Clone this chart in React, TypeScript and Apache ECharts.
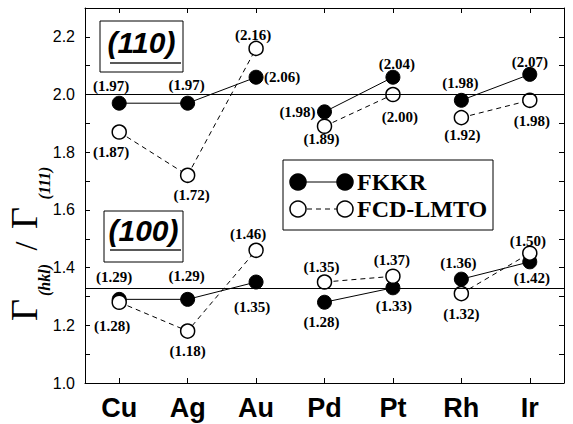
import React, { useEffect, useRef } from 'react';
import * as echarts from 'echarts';

const categories = ['Cu', 'Ag', 'Au', 'Pd', 'Pt', 'Rh', 'Ir'];
const groups = [[0, 1, 2], [3, 4], [5, 6]];
const refLines = [2.0, 4 / 3];

const fkkr110 = [1.97, 1.97, 2.06, 1.94, 2.06, 1.98, 2.07];
const fkkr110Labels = ['(1.97)', '(1.97)', '(2.06)', '(1.98)', '(2.04)', '(1.98)', '(2.07)'];
const fcd110 = [1.87, 1.72, 2.16, 1.89, 2.0, 1.92, 1.98];
const fcd110Labels = ['(1.87)', '(1.72)', '(2.16)', '(1.89)', '(2.00)', '(1.92)', '(1.98)'];
const fkkr100 = [1.29, 1.29, 1.35, 1.28, 1.33, 1.36, 1.42];
const fkkr100Labels = ['(1.29)', '(1.29)', '(1.35)', '(1.28)', '(1.33)', '(1.36)', '(1.42)'];
const fcd100 = [1.28, 1.18, 1.46, 1.35, 1.37, 1.31, 1.45];
const fcd100Labels = ['(1.28)', '(1.18)', '(1.46)', '(1.35)', '(1.37)', '(1.32)', '(1.50)'];

// label offsets (layout only)
const fkkr110Off = [[-8, -17], [-1, -18], [26, 0], [-27, 0], [4, -13], [-1, -17], [0, -12]];
const fcd110Off = [[-8, 20], [4, 20], [-3, -13], [-3, 13], [7, 22], [1, 17], [2, 21]];
const fkkr100Off = [[-5, -22], [-1, -23], [-4, 25], [-3, 20], [1, 18], [-3, -16], [2, 16]];
const fcd100Off = [[-7, 24], [0, 20], [-8, -16], [-3, -15], [-1, -16], [0, 20], [-2, -12]];

const SERIF = "'Liberation Serif', 'Times New Roman', serif";
const SANS = "'Liberation Sans', Arial, sans-serif";

function buildSeries(name: string, values: number[], labels: string[], offs: number[][], open: boolean, z: number) {
  return groups.map((g, gi) => ({
    name: name + '-' + gi,
    type: 'line',
    z,
    symbol: 'circle',
    symbolSize: 14,
    itemStyle: open
      ? { color: '#fff', borderColor: '#000', borderWidth: 1.5 }
      : { color: '#000', borderColor: '#000', borderWidth: 1 },
    lineStyle: { color: '#000', width: 1, type: open ? [5, 4] : 'solid' },
    data: values.map((v, i) =>
      g.includes(i)
        ? {
            value: v,
            label: {
              show: true,
              position: 'inside',
              offset: offs[i],
              formatter: labels[i],
              fontFamily: SERIF,
              fontWeight: 'bold',
              fontSize: 15,
              color: '#000',
            },
          }
        : '-'
    ),
  }));
}

export default function App() {
  const ref = useRef<HTMLDivElement>(null);
  useEffect(() => {
    document.body.style.margin = '0';
    const chart = echarts.init(ref.current!, null, { renderer: 'svg' });
    const yCommon = {
      type: 'value',
      min: 1.0,
      max: 2.3,
      interval: 0.1,
      splitLine: { show: false },
      axisLine: { show: true, lineStyle: { color: '#000', width: 1 } },
      axisTick: { show: true, inside: true, length: 5, lineStyle: { color: '#000' } },
    };
    const xCommon = {
      type: 'category',
      data: categories,
      boundaryGap: true,
      axisLine: { show: true, lineStyle: { color: '#000', width: 1 } },
      axisTick: { show: true, inside: true, alignWithLabel: true, length: 5, lineStyle: { color: '#000' } },
      splitLine: { show: false },
    };
    const series: any[] = [
      ...buildSeries('FKKR110', fkkr110, fkkr110Labels, fkkr110Off, false, 2),
      ...buildSeries('FKKR100', fkkr100, fkkr100Labels, fkkr100Off, false, 2),
      ...buildSeries('FCD110', fcd110, fcd110Labels, fcd110Off, true, 3),
      ...buildSeries('FCD100', fcd100, fcd100Labels, fcd100Off, true, 3),
    ];
    series[0].markLine = {
      silent: true,
      symbol: 'none',
      label: { show: false },
      lineStyle: { color: '#000', type: 'solid', width: 1 },
      data: refLines.map((v) => ({ yAxis: v })),
    };
    const txtStyle = (text: string, fontSize: number, fontFamily: string, fontWeight: string, fontStyle: string, align: string) => ({
      text,
      fontSize,
      fontFamily,
      fontWeight,
      fontStyle,
      fill: '#000',
      align,
      verticalAlign: 'middle',
      textAlign: align,
      textVerticalAlign: 'middle',
    });
    const legendRow = (y: number, open: boolean, text: string) => [
      {
        type: 'line',
        shape: { x1: 298, y1: y, x2: 345, y2: y },
        style: { stroke: '#000', lineWidth: 1, lineDash: open ? [5, 4] : null },
        z: 10,
      },
      ...[298, 345].map((cx) => ({
        type: 'circle',
        shape: { cx, cy: y, r: 8 },
        style: { fill: open ? '#fff' : '#000', stroke: '#000', lineWidth: 1.5 },
        z: 11,
      })),
      {
        type: 'text',
        x: 357,
        y,
        z: 11,
        style: txtStyle(text, 24, SERIF, 'bold', 'normal', 'left'),
      },
    ];
    const boxLabel = (x: number, y: number, w: number, h: number, text: string, ty: number, uy: number) => [
      { type: 'rect', shape: { x, y, width: w, height: h }, style: { fill: '#fff', stroke: '#000', lineWidth: 1 }, z: 10 },
      {
        type: 'text',
        x: x + w / 2,
        y: ty,
        z: 11,
        style: txtStyle(text, 30, SANS, 'bold', 'italic', 'center'),
      },
      { type: 'line', shape: { x1: 110, y1: uy, x2: 181, y2: uy }, style: { stroke: '#222', lineWidth: 1.5 }, z: 11 },
    ];
    const rotText = (x: number, y: number, text: string, size: number, weight: string, fstyle: string) => ({
      type: 'text',
      x,
      y,
      rotation: Math.PI / 2,
      z: 11,
      style: txtStyle(text, size, SERIF, weight, fstyle, 'center'),
    });
    chart.setOption({
      animation: false,
      backgroundColor: '#fff',
      grid: { left: 85, right: 9, top: 8, bottom: 41, containLabel: false },
      xAxis: [
        {
          ...xCommon,
          position: 'bottom',
          axisLabel: { show: true, margin: 11, fontFamily: SANS, fontWeight: 'bold', fontSize: 27, color: '#000' },
        },
        { ...xCommon, position: 'top', axisLabel: { show: false } },
      ],
      yAxis: [
        {
          ...yCommon,
          position: 'left',
          axisLabel: {
            show: true,
            margin: 10,
            fontFamily: SANS,
            fontSize: 16,
            color: '#000',
            formatter: (v: number) => (Math.round(v * 10) % 2 === 0 ? v.toFixed(1) : ''),
          },
        },
        { ...yCommon, position: 'right', axisLabel: { show: false } },
      ],
      series,
      graphic: [
        ...boxLabel(100, 21, 83, 51, '(110)', 42, 63),
        ...boxLabel(104, 211, 79, 51, '(100)', 230, 250),
        { type: 'rect', shape: { x: 283, y: 160, width: 210, height: 70 }, style: { fill: '#fff', stroke: '#000', lineWidth: 1 }, z: 10 },
        ...legendRow(182, false, 'FKKR'),
        ...legendRow(209, true, 'FCD-LMTO'),
        rotText(24, 310, 'Γ', 38, 'normal', 'normal'),
        rotText(44, 280, '(hkl)', 16, 'bold', 'italic'),
        rotText(26, 246, '/', 32, 'normal', 'normal'),
        rotText(24, 218, 'Γ', 38, 'normal', 'normal'),
        rotText(44, 183, '(111)', 16, 'bold', 'italic'),
      ],
    });
    return () => chart.dispose();
  }, []);
  return <div ref={ref} style={{ width: 573, height: 424 }} />;
}
